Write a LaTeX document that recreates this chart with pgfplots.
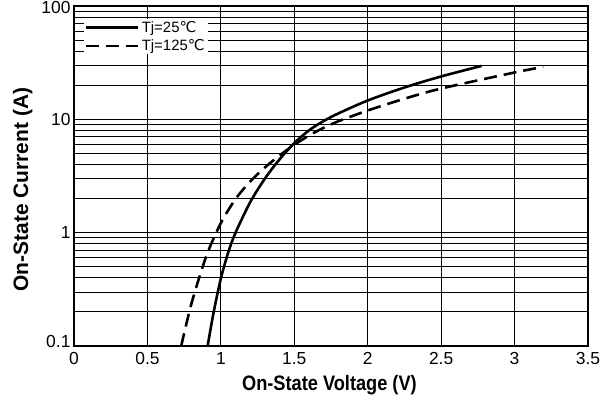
\documentclass[border=0pt]{standalone}
\usepackage{fontspec}
\setmainfont{Liberation Sans}
\newfontfamily\narrowfont{Liberation Sans}[FakeStretch=0.87]
\newfontfamily\symfont{DejaVu Sans}
\usepackage{pgfplots}
\pgfplotsset{compat=1.18}

\begin{document}
\begin{tikzpicture}
\path[use as bounding box] (-74bp,-54bp) rectangle (539bp,346bp);
\begin{axis}[
  scale only axis,
  width=514bp, height=340bp,
  ymode=log,
  xmin=0, xmax=3.5,
  ymin=0.1, ymax=100,
  xtick={0,0.5,1,1.5,2,2.5,3,3.5},
  xticklabels={0,0.5,1,1.5,2,2.5,3,3.5},
  ytick={0.1,1,10,100},
  yticklabels={\raisebox{-1bp}[0pt][0pt]{0.1},1,10,\raisebox{-8bp}[0pt][0pt]{100}},
  grid=both,
  major grid style={black, line width=0.8bp},
  minor grid style={black, line width=0.8bp},
  minor y tick num=8,
  major tick length=0pt, minor tick length=0pt,
  axis line style={black, line width=1.2bp},
  tick label style={font=\fontsize{17.5}{20}\selectfont},
  xticklabel style={yshift=-3bp},
  /pgf/number format/assume math mode=true,
  xlabel={\narrowfont\bfseries On-State Voltage (V)},
  ylabel={\bfseries On-State Current (A)},
  label style={font=\fontsize{21}{24}\selectfont},
  xlabel style={at={(axis description cs:0.497,0)}, anchor=center, yshift=-39bp},
  ylabel style={at={(axis description cs:-0.100,0.460)}, anchor=center},
  legend style={at={(10/514,1-13/340)}, anchor=north west, draw=none, fill=white,
    font=\fontsize{15}{17}\selectfont, inner xsep=1bp, inner ysep=0bp, row sep=2bp,
    /tikz/every even column/.append style={column sep=7bp}},
  legend cell align=left,
  legend image code/.code={\draw[#1] (0bp,0bp) -- (52bp,0bp);},
]
\addplot[black, line width=2.6bp, smooth] coordinates {
  (0.91,0.1) (0.95,0.196) (1.0,0.394) (1.05,0.668) (1.10,1.0) (1.20,1.86)
  (1.30,3.0) (1.40,4.44) (1.50,6.17) (1.60,7.99) (1.70,9.66) (1.80,11.27)
  (2.0,14.66) (2.25,19.1) (2.5,23.9) (2.775,29.6)
};
\addlegendentry{Tj=25{\symfont ℃}}
\addplot[black, line width=2.6bp, smooth, dash pattern=on 13bp off 7bp] coordinates {
  (0.73,0.1) (0.80,0.237) (0.90,0.616) (1.0,1.215) (1.1,1.98) (1.2,2.83)
  (1.3,3.76) (1.4,4.8) (1.5,5.96) (1.6,7.19) (1.7,8.42) (1.8,9.61)
  (2.0,11.96) (2.25,15.2) (2.5,18.7) (3.0,25.9) (3.195,29.0)
};
\addlegendentry{Tj=125{\symfont ℃}}
\end{axis}
\end{tikzpicture}
\end{document}
